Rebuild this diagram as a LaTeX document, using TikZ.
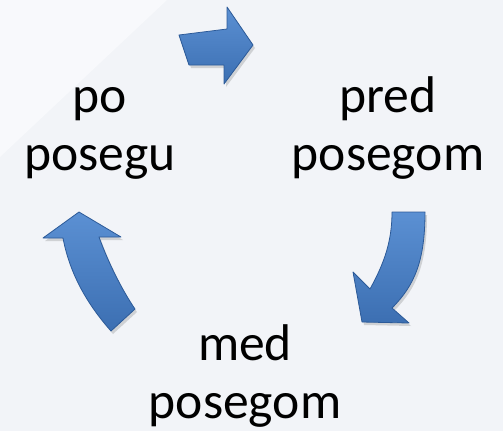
\documentclass[tikz,border=0pt]{standalone}
\usepackage{fontspec}
\setmainfont{Carlito}
\definecolor{bgmain}{HTML}{F2F4F8}
\definecolor{bglight}{HTML}{F8F9FC}
\definecolor{arrowtop}{HTML}{5B90D3}
\definecolor{arrowbot}{HTML}{3C6FB2}
\definecolor{arrowedge}{HTML}{2C5A98}
\tikzset{
  cyc/.style={top color=arrowtop, bottom color=arrowbot, draw=arrowedge, line width=0.8pt, line join=round},
  cycshadow/.style={fill=black, opacity=0.14},
  lbl/.style={align=center, inner sep=0pt, font=\fontsize{51.6}{58}\selectfont, anchor=base, text=black},
}
\begin{document}
\begin{tikzpicture}[x=1pt,y=-1pt]
\fill[bgmain] (0,0) rectangle (503,431);
\fill[bglight] (0,0) -- (167,0) -- (0,157) -- cycle;
\useasboundingbox (0,0) rectangle (503,431);

% top arrow: po -> pred
\begin{scope}[shift={(2,3)}]
\fill[cycshadow] (179,35) -- (227,29) -- (227,7) -- (253,45) -- (224,84) -- (224,65) -- (189,65) -- cycle;
\end{scope}
\path[cyc] (179,35) -- (227,29) -- (227,7) -- (253,45) -- (224,84) -- (224,65) -- (189,65) -- cycle;

% right arrow: pred -> med
\begin{scope}[shift={(2,3)}]
\fill[cycshadow] (392,212) -- (425,212) .. controls (425,260) and (415,285) .. (392,308) -- (409,323) -- (362,322) -- (353,272) -- (370,289) .. controls (385,262) and (392,240) .. (392,212) -- cycle;
\end{scope}
\path[cyc] (392,212) -- (425,212) .. controls (425,260) and (415,285) .. (392,308) -- (409,323) -- (362,322) -- (353,272) -- (370,289) .. controls (385,262) and (392,240) .. (392,212) -- cycle;

% left arrow: med -> po
\begin{scope}[shift={(2,3)}]
\fill[cycshadow] (79,212) -- (121,237) -- (99,237) .. controls (108,262) and (122,290) .. (135,309) -- (111,331) .. controls (88,305) and (70,275) .. (63,238) -- (43,238) -- cycle;
\end{scope}
\path[cyc] (79,212) -- (121,237) -- (99,237) .. controls (108,262) and (122,290) .. (135,309) -- (111,331) .. controls (88,305) and (70,275) .. (63,238) -- (43,238) -- cycle;

\node[lbl] (po) at (100,170) {po\\posegu};
\node[lbl] (pred) at (388,170) {pred\\posegom};
\node[lbl] (med) at (245,418) {med\\posegom};
\end{tikzpicture}
\end{document}
